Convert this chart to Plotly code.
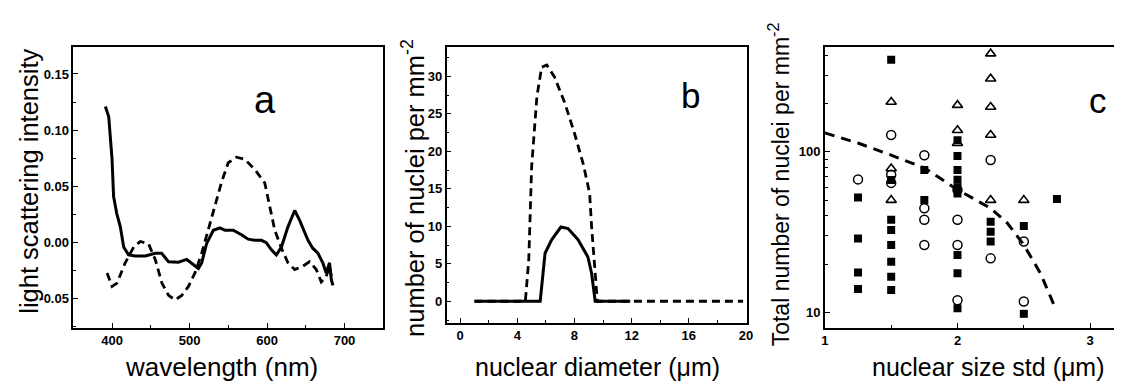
import plotly.graph_objects as go

# ---------- Panel a: light scattering spectra ----------
a_solid_x = [391.4, 395.7, 400, 402, 406, 410.7, 415, 421.4, 430, 442.9, 455.7, 464, 472.9, 485.7,
             496.4, 505, 511.4, 515.7, 522, 530.7, 539, 545.7, 556.4, 567, 575.7, 584, 592.9, 599,
             605.7, 612, 618.6, 627, 635.7, 642, 652.9, 659, 665.7, 672, 676.4, 680.7, 683, 685]
a_solid_y = [0.121, 0.112, 0.074, 0.041, 0.026, 0.014, -0.004, -0.011, -0.012, -0.012, -0.0095, -0.0095,
             -0.017, -0.0175, -0.015, -0.020, -0.023, -0.018, -0.001, 0.011, 0.013, 0.011, 0.011, 0.007,
             0.003, 0.002, 0.002, 0.000, -0.0065, -0.011, -0.004, 0.014, 0.0285, 0.020, 0.002, -0.005,
             -0.0095, -0.018, -0.027, -0.018, -0.033, -0.038]
a_dash_x = [393.6, 400, 406.4, 417, 427.9, 436.4, 447, 455.7, 464.3, 472.9, 481.4, 490, 498.6, 507,
            515.7, 524, 532.9, 541.4, 550, 560.7, 571.4, 584.3, 597.1, 603.6, 610, 618.6, 627, 635.7,
            646.4, 655, 663.6, 670, 676.4, 680.7, 683]
a_dash_y = [-0.027, -0.039, -0.036, -0.018, -0.004, 0.001, -0.001, -0.015, -0.036, -0.047, -0.051,
            -0.047, -0.039, -0.027, -0.0095, 0.011, 0.032, 0.054, 0.071, 0.076, 0.074, 0.065, 0.053,
            0.032, 0.011, -0.005, -0.018, -0.024, -0.021, -0.017, -0.024, -0.035, -0.030, -0.021, -0.030]

# ---------- Panel b: size distributions ----------
b_solid_x = [1.0, 5.6, 5.94, 6.4, 7.05, 7.55, 8.25, 8.94, 9.2, 9.45, 11.9]
b_solid_y = [0, 0, 6.4, 8.2, 9.9, 9.7, 8.2, 5.9, 3.7, 0, 0]
b_dash_x = [1.0, 4.56, 4.8, 5.0, 5.37, 5.7, 6.06, 6.6, 7.33, 8.0, 8.6, 9.06, 9.2, 9.4, 9.6, 19.8]
b_dash_y = [0, 0, 5.5, 17.9, 27.3, 31.2, 31.5, 29.9, 26.4, 22.4, 18.4, 14.4, 9.9, 4.6, 0, 0]

# ---------- Panel c: total nuclei vs size std ----------
c_sq_x = [1.25, 1.25, 1.25, 1.25,
          1.5, 1.5, 1.5, 1.5, 1.5, 1.5, 1.5, 1.5,
          1.75, 1.75,
          2.0, 2.0, 2.0, 2.0, 2.0, 2.0, 2.0, 2.0, 2.0,
          2.25, 2.25, 2.25,
          2.5, 2.5,
          2.75]
c_sq_y = [52, 28.8, 17.7, 14.0,
          374, 66.7, 37.7, 32.6, 26.3, 20.7, 16.7, 13.8,
          77, 50,
          118, 94, 77, 67, 60, 55, 22.8, 17.5, 10.6,
          36.7, 31.8, 27.6,
          34.5, 9.8,
          50.8]
c_circ_x = [1.25, 1.5, 1.5, 1.5, 1.75, 1.75, 1.75, 1.75, 2.0, 2.0, 2.0, 2.0, 2.25, 2.25, 2.5, 2.5]
c_circ_y = [67.3, 127, 72, 64, 95, 44.5, 37.7, 26.3, 57.8, 37.7, 26.3, 11.9, 88.8, 21.7, 27.6, 11.7]
c_tri_x = [1.5, 1.5, 1.5, 2.0, 2.0, 2.0, 2.25, 2.25, 2.25, 2.25, 2.25, 2.5]
c_tri_y = [204, 78.7, 50, 195, 136, 113, 408, 285, 190, 127, 50, 50]
c_fit_x = [1.0, 1.254, 1.504, 1.753, 2.0, 2.25, 2.377, 2.50, 2.626, 2.738]
c_fit_y = [131, 113, 95, 79, 58, 44.5, 35.9, 26.3, 17.5, 10.6]

fig = go.Figure()
line_solid = dict(color="black", width=3)
line_dash = dict(color="black", width=2.8, dash="8px,5px")

fig.add_trace(go.Scatter(x=a_solid_x, y=a_solid_y, mode="lines", line=line_solid, xaxis="x", yaxis="y"))
fig.add_trace(go.Scatter(x=a_dash_x, y=a_dash_y, mode="lines", line=line_dash, xaxis="x", yaxis="y"))
fig.add_trace(go.Scatter(x=b_dash_x, y=b_dash_y, mode="lines", line=line_dash, xaxis="x2", yaxis="y2"))
fig.add_trace(go.Scatter(x=b_solid_x, y=b_solid_y, mode="lines", line=line_solid, xaxis="x2", yaxis="y2"))
fig.add_trace(go.Scatter(x=c_fit_x, y=c_fit_y, mode="lines",
                         line=dict(color="black", width=3, dash="10px,7px"), xaxis="x3", yaxis="y3"))
fig.add_trace(go.Scatter(x=c_sq_x, y=c_sq_y, mode="markers",
                         marker=dict(symbol="square", size=8, color="black"), xaxis="x3", yaxis="y3"))
fig.add_trace(go.Scatter(x=c_circ_x, y=c_circ_y, mode="markers",
                         marker=dict(symbol="circle-open", size=9, color="black", line=dict(width=1.5)),
                         xaxis="x3", yaxis="y3"))
fig.add_trace(go.Scatter(x=c_tri_x, y=c_tri_y, mode="markers",
                         marker=dict(symbol="triangle-up-open", size=9, color="black", line=dict(width=1.6)),
                         xaxis="x3", yaxis="y3"))

W, H = 1121, 385
tickfont = dict(family="Liberation Sans, Arial", size=13, color="black", weight="bold")
ax_common = dict(showline=True, linecolor="black", linewidth=1.5, ticks="inside", ticklen=5,
                 tickcolor="black", showgrid=False, zeroline=False, tickfont=tickfont)
minor_common = dict(ticks="inside", ticklen=3, tickcolor="black")

def dom_x(l, r):
    return [l / W, min(r / W, 1.0)]

def dom_y(t, b):
    return [1 - b / H, 1 - t / H]

fig.update_layout(
    width=W, height=H, margin=dict(l=0, r=0, t=0, b=0),
    paper_bgcolor="white", plot_bgcolor="white", showlegend=False,
    font=dict(family="Liberation Sans, Arial", color="black"),
    xaxis=dict(ax_common, domain=dom_x(70, 383), range=[350, 750], tickvals=[400, 500, 600, 700],
               minor=dict(minor_common, dtick=50), mirror=True, anchor="y"),
    yaxis=dict(ax_common, domain=dom_y(47, 328), range=[-0.076, 0.174],
               tickvals=[-0.05, 0, 0.05, 0.1, 0.15], ticktext=["-0.05", "0.00", "0.05", "0.10", "0.15"],
               minor=dict(minor_common, dtick=0.025), mirror=True, anchor="x"),
    xaxis2=dict(ax_common, domain=dom_x(447, 750), range=[-0.95, 20.05], tickvals=[0, 4, 8, 12, 16, 20],
                minor=dict(minor_common, dtick=2), mirror=True, anchor="y2"),
    yaxis2=dict(ax_common, domain=dom_y(47, 323), range=[-2.9, 33.9], tickvals=[0, 5, 10, 15, 20, 25, 30],
                minor=dict(minor_common, dtick=2.5), mirror=True, anchor="x2"),
    xaxis3=dict(ax_common, domain=dom_x(829, 1121), range=[1, 3.18], tickvals=[1, 2, 3],
                minor=dict(minor_common, dtick=0.5), mirror=True, anchor="y3"),
    yaxis3=dict(ax_common, type="log", domain=dom_y(47, 328), range=[0.903, 2.652], tickvals=[10, 100],
                minor=dict(minor_common, tickvals=[20, 30, 40, 50, 60, 70, 80, 90, 200, 300, 400]),
                mirror=False, anchor="x3"),
)

ann = [
    dict(text="light scattering intensity", x=25, y=181, textangle=-90, size=25.5),
    dict(text="wavelength (nm)", x=220, y=367, textangle=0, size=26),
    dict(text="number of nuclei per mm<sup>-2</sup>", x=413, y=188, textangle=-90, size=25.5),
    dict(text="nuclear diameter (μm)", x=599, y=367, textangle=0, size=25),
    dict(text="Total number of nuclei per mm<sup>-2</sup>", x=783, y=184, textangle=-90, size=23),
    dict(text="nuclear size std (μm)", x=994, y=367, textangle=0, size=25),
    dict(text="a", x=264, y=100, textangle=0, size=38),
    dict(text="b", x=693, y=96, textangle=0, size=35),
    dict(text="c", x=1105, y=101, textangle=0, size=35),
]
for a in ann:
    f = dict(family="Liberation Sans, Arial", size=a["size"], color="black")
    fig.add_annotation(text=a["text"], x=a["x"] / W, y=1 - a["y"] / H, xref="paper", yref="paper",
                       xanchor="center", yanchor="middle", textangle=a["textangle"], showarrow=False,
                       font=f)

fig.write_html("out.html", config={"displayModeBar": False},
               post_script="document.body.style.margin='0px';")
